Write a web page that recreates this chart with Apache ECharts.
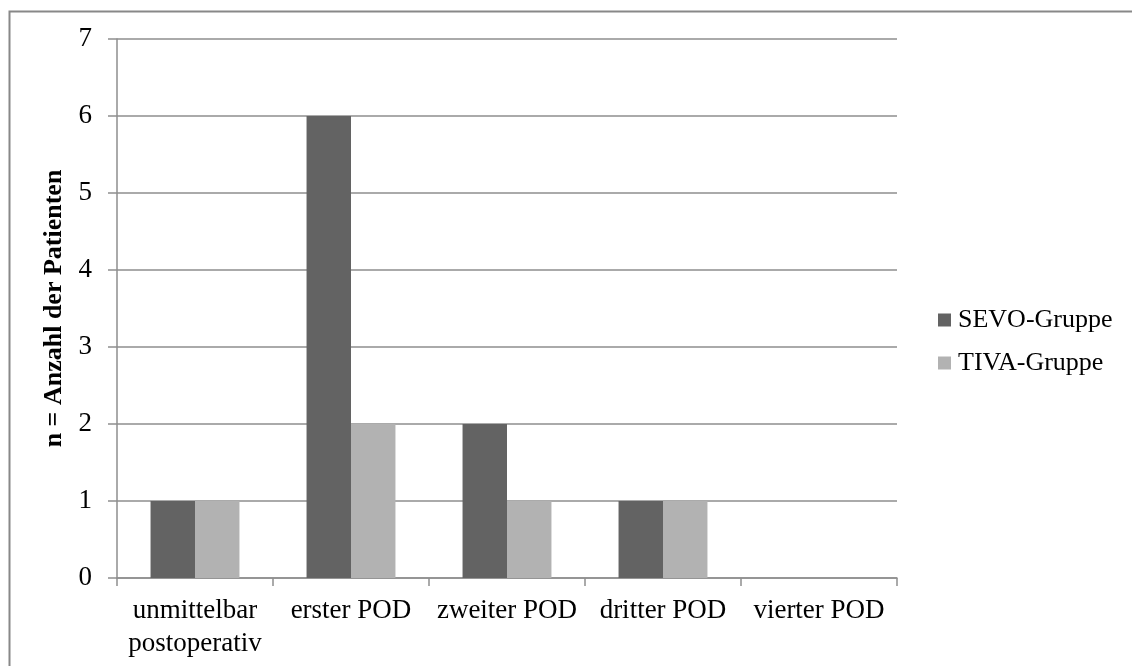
<!DOCTYPE html>
<html>
<head>
<meta charset="utf-8">
<script src="https://cdn.jsdelivr.net/npm/echarts@6/dist/echarts.min.js"></script>
<style>html,body{margin:0;padding:0;background:#fff}#c{width:1132px;height:666px}</style>
</head>
<body>
<div id="c"></div>
<script>
const categories = ['unmittelbar\npostoperativ', 'erster POD', 'zweiter POD', 'dritter POD', 'vierter POD'];
const sevo = [1, 6, 2, 1, 0];
const tiva = [1, 2, 1, 1, 0];
const seriesNames = ['SEVO-Gruppe', 'TIVA-Gruppe'];
const yTitle = 'n = Anzahl der Patienten';

const font = '"Liberation Serif", "Times New Roman", serif';
const gridColor = '#8e8e8e';
const chart = echarts.init(document.getElementById('c'), null, {renderer: 'canvas'});
chart.setOption({
  animation: false,
  backgroundColor: '#fff',
  textStyle: {fontFamily: font, color: '#000'},
  graphic: [{
    type: 'rect', left: 7, top: 9, silent: true,
    shape: {width: 1300, height: 800},
    style: {fill: 'none', stroke: '#888', lineWidth: 2}
  }],
  grid: {left: 117, right: 235, top: 39, bottom: 88},
  legend: {
    orient: 'vertical', left: 938, top: 307, padding: 0,
    itemWidth: 13, itemHeight: 13, itemGap: 17,
    icon: 'rect',
    textStyle: {fontFamily: font, fontSize: 26, color: '#000', padding: [0, 0, 0, 2]},
    data: seriesNames
  },
  xAxis: {
    type: 'category', data: categories,
    axisLine: {lineStyle: {color: gridColor, width: 1.5}},
    axisTick: {show: true, length: 8, lineStyle: {color: gridColor, width: 1.5}},
    axisLabel: {fontFamily: font, fontSize: 27, color: '#000', margin: 16, lineHeight: 33, interval: 0}
  },
  yAxis: {
    type: 'value', min: 0, max: 7, interval: 1,
    name: yTitle, nameLocation: 'middle', nameGap: 47, nameRotate: 90,
    nameTextStyle: {fontFamily: font, fontSize: 26, fontWeight: 'bold', color: '#000'},
    axisLine: {show: true, lineStyle: {color: gridColor, width: 1.5}},
    axisTick: {show: true, length: 9, lineStyle: {color: gridColor, width: 1.5}},
    axisLabel: {fontFamily: font, fontSize: 27, color: '#000', margin: 25},
    splitLine: {lineStyle: {color: gridColor, width: 1.5}}
  },
  series: [
    {name: seriesNames[0], type: 'bar', data: sevo, barGap: '0%', barCategoryGap: '43%',
     itemStyle: {color: '#636363'}},
    {name: seriesNames[1], type: 'bar', data: tiva, barGap: '0%', barCategoryGap: '43%',
     itemStyle: {color: '#b2b2b2'}}
  ]
});
</script>
</body>
</html>
